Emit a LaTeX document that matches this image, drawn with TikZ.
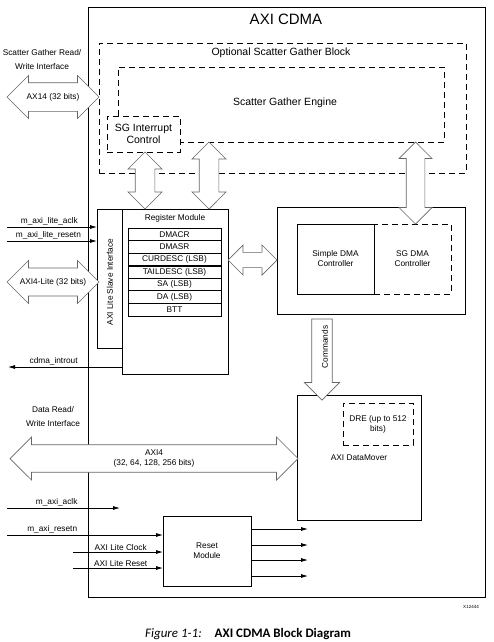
\documentclass[tikz,border=0pt]{standalone}
\usepackage{fontspec}
\setmainfont{Liberation Sans}
\newfontfamily\capfont{Carlito}
\usetikzlibrary{arrows.meta}
\usetikzlibrary{positioning}
\usetikzlibrary{shapes.arrows}

\newcommand{\smallfont}{\fontsize{8.3}{10}\selectfont}
\newcommand{\midfont}{\fontsize{10.5}{11.5}\selectfont}

\tikzset{
  blk/.style={draw, line width=0.8pt, inner sep=0pt, outer sep=0pt,
    anchor=north west, align=center},
  optblk/.style={blk, dash pattern=on 6pt off 4pt},
  bus/.style={double arrow, double arrow tip angle=90, draw=black!60,
    line width=0.7pt, fill=white, inner sep=0pt, outer sep=0pt},
  cmdarrow/.style={single arrow, single arrow tip angle=90, draw=black!60,
    line width=0.7pt, fill=white, inner sep=0pt, outer sep=0pt},
  sig/.style={line width=0.8pt, -{Latex[length=7pt,width=4pt]}},
  siglab/.style={above, inner sep=1pt},
}

\begin{document}
\begin{tikzpicture}[x=1pt, y=-1pt, font=\smallfont]
  \useasboundingbox (0,0) rectangle (494,642);

  \node[blk, minimum width=397, minimum height=590] (cdma) at (88,7) {};
  \node[font=\fontsize{15}{17}\selectfont] (cdmatitle) at (286,19) {AXI CDMA};

  \node[optblk, minimum width=367, minimum height=130] (sgblock) at (99,43) {};
  \node[font=\midfont] (sgblocklab) at (281,53) {Optional Scatter Gather Block};
  \node[optblk, minimum width=326, minimum height=75] (sgengine) at (118,67) {};
  \node[font=\midfont] (sgenginelab) at (285,103) {Scatter Gather Engine};
  \node[optblk, fill=white, minimum width=73, minimum height=36, font=\midfont]
    (sgintr) at (107,116) {SG Interrupt\\Control};

  \node[blk, minimum width=106, minimum height=165] (regmod) at (122,209) {};
  \node (regmodlab) at (175,218) {Register Module};
  \node[blk, minimum width=25, minimum height=139] (axilite) at (97,209) {};
  \node[rotate=90] (axilitelab) at (110,282) {AXI Lite Slave Interface};
  \foreach \r [count=\i] in {DMACR, DMASR, CURDESC (LSB), TAILDESC (LSB), SA (LSB), DA (LSB), BTT}
    \node[blk, minimum width=93, minimum height=12.57] (reg\i) at (128,215.43+12.57*\i) {\r};
  \draw[line width=1.6pt] (reg3.south west) -- (reg3.south east);

  \node[blk, minimum width=188, minimum height=107] (dma) at (277,207) {};
  \node[optblk, minimum width=77, minimum height=70] (sgdma) at (374,224) {SG DMA\\Controller};
  \node[blk, minimum width=77, minimum height=70] (simple) at (297,224) {Simple DMA\\Controller};

  \node[blk, minimum width=124, minimum height=125] (mover) at (297,395) {AXI DataMover};
  \node[optblk, minimum width=70, minimum height=42] (dre) at (343,403) {DRE (up to 512\\bits)};

  \node[blk, minimum width=88, minimum height=70] (reset) at (163,516) {Reset\\Module};

  \node[bus, minimum height=92, minimum width=42, inner ysep=14] (sgbus) at (53,97) {};
  \node (sgbuslab) at (sgbus.center) {AX14 (32 bits)};
  \node[align=center, font=\fontsize{8.3}{14}\selectfont] (sgif) at (42,60)
    {Scatter Gather Read/\\Write Interface};

  \node[bus, minimum height=92, minimum width=43, inner ysep=13] (litebus) at (53,282) {};
  \node (litebuslab) at (litebus.center) {AXI4-Lite (32 bits)};

  \node[bus, minimum height=288, minimum width=43, inner ysep=12.5] (databus) at (154,458.5) {};
  \node[align=center] (databuslab) at (databus.center) {AXI4\\(32, 64, 128, 256 bits)};
  \node[align=center, font=\fontsize{8.3}{14}\selectfont] (dataif) at (53,417)
    {Data Read/\\Write Interface};

  \node[bus, minimum height=49, minimum width=30, inner ysep=7] (regbus) at (252.5,260) {};
  \node[bus, rotate=90, minimum height=57, minimum width=29, inner ysep=9.5] (intrbus) at (145,180.5) {};
  \node[bus, rotate=90, minimum height=67, minimum width=29, inner ysep=9.5] (engbus) at (209,175.5) {};
  \node[bus, rotate=90, minimum height=82, minimum width=31, inner ysep=9] (sgdmabus) at (415.5,183) {};
  \node[cmdarrow, rotate=-90, minimum height=81, minimum width=35, inner ysep=9.5] (cmdbus) at (322,354.5) {};
  \node[rotate=90] (cmdlab) at (325,347) {Commands};

  \coordinate (liteclkin) at (7,227);
  \coordinate (literstin) at (7,241);
  \coordinate (introutend) at (8,367);
  \coordinate (aclkin) at (7,508);
  \coordinate (aclkend) at (120,508);
  \coordinate (arstin) at (7,535);
  \coordinate (lclkin) at (73,552);
  \coordinate (lrstin) at (73,568);

  \draw[sig] (liteclkin) -- (axilite.west |- liteclkin)
    node[siglab, pos=0.47] {m\_axi\_lite\_aclk};
  \draw[sig] (literstin) -- (axilite.west |- literstin)
    node[siglab, pos=0.46] {m\_axi\_lite\_resetn};
  \draw[sig] (regmod.west |- introutend) -- (introutend)
    node[siglab, pos=0.6] {cdma\_introut};
  \draw[sig] (aclkin) -- (aclkend)
    node[siglab, pos=0.44] {m\_axi\_aclk};
  \draw[sig] (arstin) -- (reset.west |- arstin)
    node[siglab, pos=0.29] {m\_axi\_resetn};
  \draw[sig] (lclkin) -- (reset.west |- lclkin)
    node[siglab, pos=0.53] {AXI Lite Clock};
  \draw[sig] (lrstin) -- (reset.west |- lrstin)
    node[siglab, pos=0.53] {AXI Lite Reset};
  \foreach \y [count=\k] in {529,545,560,576} {
    \coordinate (rout\k) at (308,\y);
    \draw[sig] (reset.east |- rout\k) -- (rout\k);
  }

  \node[font=\fontsize{4.5}{5}\selectfont] (figid) at (471,607) {X12444};
  \node[font=\capfont\fontsize{13}{15}\selectfont] (caption) at (248,634)
    {\textit{Figure 1-1:}\quad\textbf{AXI CDMA Block Diagram}};
\end{tikzpicture}
\end{document}
